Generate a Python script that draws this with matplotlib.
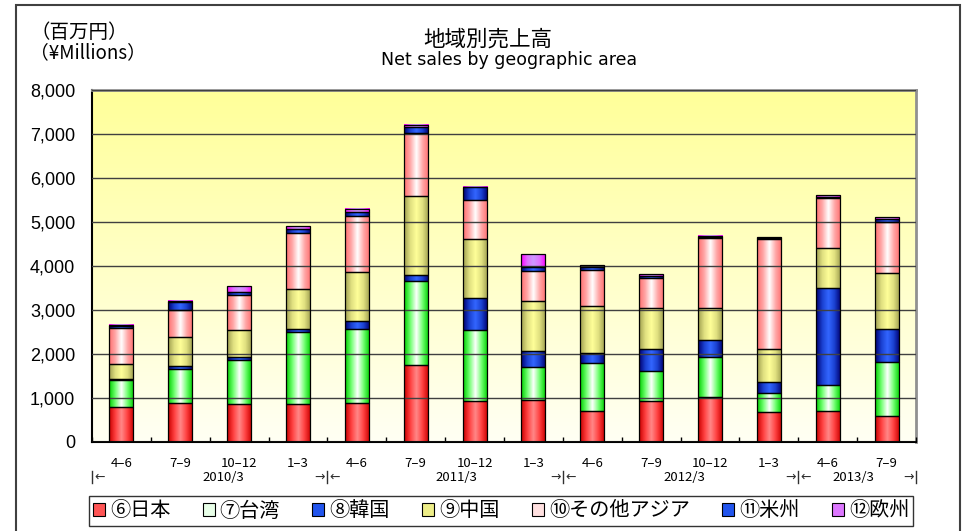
import numpy as np
import matplotlib
matplotlib.use("Agg")
import matplotlib.pyplot as plt
from matplotlib.colors import LinearSegmentedColormap
from matplotlib.patches import Patch, Rectangle

plt.rcParams['font.family'] = ['Noto Sans CJK JP', 'DejaVu Sans']

quarters = ['4–6', '7–9', '10–12', '1–3',
            '4–6', '7–9', '10–12', '1–3',
            '4–6', '7–9', '10–12', '1–3',
            '4–6', '7–9']
fiscal_years = ['2010/3', '2011/3', '2012/3', '2013/3']

# net sales by region, million yen
japan = [783, 888, 850, 850, 888, 1738, 933, 949, 691, 933, 1024, 668, 691, 592]
taiwan = [621, 758, 1001, 1653, 1668, 1918, 1608, 743, 1107, 682, 910, 432, 606, 1214]
korea = [21, 76, 76, 53, 190, 144, 736, 379, 227, 501, 387, 265, 2207, 765]
china = [343, 660, 614, 918, 1107, 1790, 1327, 1137, 1055, 918, 728, 737, 910, 1260]
other_asia = [826, 614, 804, 1267, 1281, 1426, 895, 675, 826, 690, 1578, 2517, 1123, 1160]
americas = [31, 175, 68, 91, 92, 150, 288, 99, 76, 46, 30, 23, 38, 83]
europe = [23, 23, 122, 68, 75, 46, 8, 281, 31, 37, 23, 8, 30, 31]

series = [
    ('⑥日本', japan, ['#C80000', '#FF4040', '#FF8888', '#FF4040', '#C80000'], '#FF5555'),
    ('⑦台湾', taiwan, ['#00D000', '#70FF70', '#FFFFFF', '#70FF70', '#00D000'], '#E8FFE8'),
    ('⑧韓国', korea, ['#000070', '#1A40D0', '#3366FF', '#1A40D0', '#000070'], '#2255EE'),
    ('⑨中国', china, ['#A0A050', '#E0E080', '#FFFF99', '#E0E080', '#A0A050'], '#EEEE88'),
    ('⑩その他アジア', other_asia, ['#FF7070', '#FFA8A8', '#FFFFFF', '#FFA8A8', '#FF7070'], '#FFE0E0'),
    ('⑪米州', americas, ['#000070', '#1A40D0', '#3366FF', '#1A40D0', '#000070'], '#2255EE'),
    ('⑫欧州', europe, ['#FF00FF', '#E070FF', '#CC99FF', '#E070FF', '#FF00FF'], '#DD77FF'),
]

fig = plt.figure(figsize=(9.64, 5.31), dpi=100)
ax = fig.add_axes([92 / 964, 1 - 441.7 / 531, 824 / 964, 351.7 / 531])

# yellow background fading downwards
bg = LinearSegmentedColormap.from_list('bg', ['#FFFFF4', '#FFFF99'])
ax.imshow(np.linspace(0, 1, 256)[:, None], extent=(0, 1, 0, 1), transform=ax.transAxes,
          cmap=bg, origin='lower', aspect='auto', zorder=0)

x = np.arange(len(quarters))
width = 0.41
grad = np.linspace(0, 1, 64)[None, :]
bottom = np.zeros(len(quarters))
handles = []
for name, vals, cols, solid in series:
    vals = np.array(vals, dtype=float)
    bars = ax.bar(x, vals, width, bottom=bottom, facecolor='none',
                  edgecolor='black', linewidth=0.9, zorder=3)
    cmap = LinearSegmentedColormap.from_list(name, cols)
    for p in bars.patches:
        x0, y0 = p.get_x(), p.get_y()
        ax.imshow(grad, extent=(x0, x0 + p.get_width(), y0, y0 + p.get_height()),
                  cmap=cmap, aspect='auto', interpolation='bilinear', zorder=2)
    bottom += vals
    handles.append(Patch(facecolor=solid, edgecolor='black', linewidth=0.8, label=name))

ax.set_xlim(-0.5, len(quarters) - 0.5)
ax.set_ylim(0, 8000)
ax.set_yticks(np.arange(0, 8001, 1000))
ax.set_yticklabels([f'{v:,}' for v in range(0, 8001, 1000)],
                   fontfamily='Liberation Sans', fontsize=13)
ax.yaxis.grid(True, color='#404040', linewidth=1)
ax.set_axisbelow(False)
for gl in ax.get_ygridlines():
    gl.set_zorder(1)
ax.tick_params(axis='y', length=0, pad=12)

ax.set_xticks(x)
ax.set_xticklabels(quarters, fontsize=9.5)
ax.set_xticks(np.arange(-0.5, len(quarters), 1), minor=True)
ax.tick_params(axis='x', which='major', length=0, pad=11)
ax.tick_params(axis='x', which='minor', direction='in', length=3.5, width=1)

for s in ['top', 'right']:
    ax.spines[s].set_color('#909090')
    ax.spines[s].set_linewidth(2)
for s in ['left', 'bottom']:
    ax.spines[s].set_color('black')
    ax.spines[s].set_linewidth(1.5)

# fiscal year brackets under the quarter labels
tr = ax.get_xaxis_transform()
bounds = [-0.5, 3.5, 7.5, 11.5, 13.5]
year_pos = [1.74, 5.69, 9.56, 12.43]
yb = -0.1004
for b in bounds:
    ax.plot([b, b], [-0.084, -0.117], transform=tr, color='#303030', lw=1, clip_on=False)
for i, b in enumerate(bounds):
    if i > 0:
        ax.text(b - 0.04, yb, '→', transform=tr, ha='right', va='center', fontsize=9,
                family=['DejaVu Sans'], color='#303030')
    if i < len(bounds) - 1:
        ax.text(b + 0.04, yb, '←', transform=tr, ha='left', va='center', fontsize=9,
                family=['DejaVu Sans'], color='#303030')
for fy, xp in zip(fiscal_years, year_pos):
    ax.text(xp, yb, fy, transform=tr, ha='center', va='center', fontsize=9.5)

fig.text(488 / 964, 1 - 40 / 531, '地域別売上高', ha='center', va='center', fontsize=15.5)
fig.text(509 / 964, 1 - 60 / 531, 'Net sales by geographic area', ha='center', va='center',
         fontsize=12.5, family=['DejaVu Sans'])
fig.text(30 / 964, 1 - 32 / 531, '（百万円）', ha='left', va='center', fontsize=14)
fig.text(30 / 964, 1 - 53 / 531, '（¥Millions）', ha='left', va='center', fontsize=13.5)

leg = fig.legend(handles=handles, loc='center', bbox_to_anchor=(501 / 964, 1 - 511 / 531),
                 ncol=7, fontsize=14.5, frameon=True, fancybox=False, edgecolor='black',
                 handlelength=0.6, handleheight=0.6, handletextpad=0.25,
                 columnspacing=1.6, borderpad=0.2, borderaxespad=0)
leg.get_frame().set_linewidth(1)

fig.patches.append(Rectangle((16 / 964, -0.05), 944 / 964, 1.05 - 5 / 531,
                             transform=fig.transFigure, fill=False,
                             edgecolor='#404040', linewidth=1.5))

fig.savefig('out.png', dpi=100)
